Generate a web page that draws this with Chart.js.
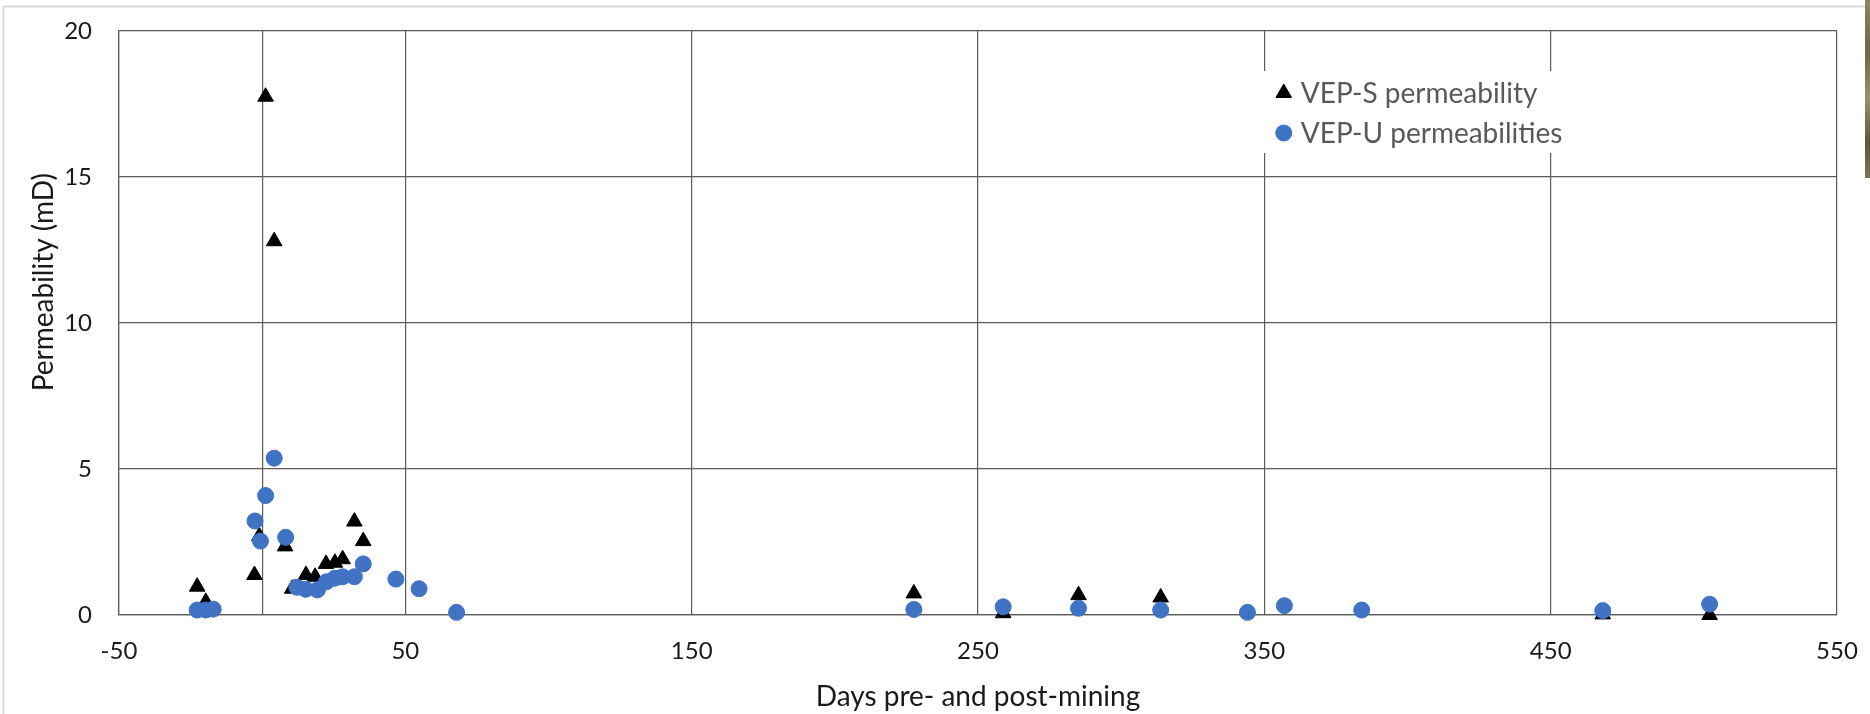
<!DOCTYPE html>
<html>
<head>
<meta charset="utf-8">
<title>Permeability pre- and post-mining</title>
<script src="https://cdn.jsdelivr.net/npm/chart.js@4/dist/chart.umd.min.js"></script>
<style>
  html, body { margin: 0; padding: 0; background: #ffffff; }
  #wrap { position: relative; width: 1870px; height: 714px; }
</style>
</head>
<body>
<div id="wrap"><canvas id="chart"></canvas></div>
<script>
// Days relative to mining and measured permeability (mD)
const vepSDays = [-22.7, -19.7, -2.7, -1.0, 1.2, 4.2, 8.0, 10.5, 15.3, 18.5, 22.3, 25.4, 28.1, 32.2, 35.3, 227.6, 258.8, 285.1, 313.8, 468.2, 505.5];
const vepSPerm = [0.97, 0.45, 1.37, 2.7, 17.75, 12.8, 2.35, 0.9, 1.37, 1.31, 1.75, 1.79, 1.91, 3.2, 2.53, 0.74, 0.06, 0.68, 0.6, 0.02, 0.0];

const vepUDays = [-22.7, -19.7, -17.1, -2.5, -0.6, 1.2, 4.2, 8.2, 12.1, 15.2, 19.3, 22.5, 25.4, 28.1, 32.2, 35.3, 46.7, 54.8, 67.9, 227.6, 258.8, 285.1, 313.8, 344.1, 357.0, 384.0, 468.2, 505.5];
const vepUPerm = [0.17, 0.17, 0.2, 3.22, 2.53, 4.09, 5.37, 2.66, 0.95, 0.88, 0.86, 1.14, 1.26, 1.31, 1.31, 1.75, 1.23, 0.90, 0.09, 0.19, 0.28, 0.23, 0.17, 0.09, 0.32, 0.17, 0.15, 0.37];

const seriesNames = ['VEP-S permeability', 'VEP-U permeabilities'];

// Axis ticks; the vertical axis crosses the day axis at day 0
const xTickLabels = [-50, 50, 150, 250, 350, 450, 550];
const xAxisCrossing = 0;
const yTickLabels = [0, 5, 10, 15, 20];

const xTitle = 'Days pre- and post-mining';
const yTitle = 'Permeability (mD)';

const FONT = 'Lato, "Open Sans", "DejaVu Sans", sans-serif';
const GRID = '#5c5c5c';

const toPoints = (xs, ys) => xs.map((x, i) => ({ x: x, y: ys[i] }));

// Page frame, a sliver of the neighbouring photo, and the rotated value title
const decorPlugin = {
  id: 'decor',
  beforeDraw(chart) {
    const ctx = chart.ctx;
    ctx.save();
    ctx.fillStyle = '#ffffff';
    ctx.fillRect(0, 0, chart.width, chart.height);
    ctx.strokeStyle = '#d9d9d9';
    ctx.lineWidth = 2;
    ctx.beginPath();
    ctx.moveTo(3.5, chart.height);
    ctx.lineTo(3.5, 6.5);
    ctx.lineTo(chart.width - 5, 6.5);
    ctx.stroke();
    const g = ctx.createLinearGradient(0, 0, 0, 178);
    g.addColorStop(0, '#8d8566');
    g.addColorStop(0.3, '#6f6548');
    g.addColorStop(0.55, '#9a8f6e');
    g.addColorStop(0.8, '#5e553c');
    g.addColorStop(1, '#7d7356');
    ctx.fillStyle = g;
    ctx.fillRect(chart.width - 5, 0, 5, 178);
    ctx.restore();
  },
  afterDraw(chart) {
    const ctx = chart.ctx;
    const a = chart.chartArea;
    ctx.save();
    ctx.translate(44, a.top + (a.bottom - a.top) * 0.43);
    ctx.rotate(-Math.PI / 2);
    ctx.fillStyle = '#1a1a1a';
    ctx.font = '28px ' + FONT;
    ctx.textAlign = 'center';
    ctx.textBaseline = 'middle';
    ctx.fillText(yTitle, 0, 0);
    ctx.restore();
  }
};

// Legend boxed inside the plot area, upper right
const insideLegend = {
  id: 'insideLegend',
  afterDatasetsDraw(chart) {
    const ctx = chart.ctx;
    const a = chart.chartArea;
    const w = a.right - a.left;
    const boxX = a.left + w * 0.664;
    const boxY = a.top + 40;
    ctx.save();
    ctx.fillStyle = '#ffffff';
    ctx.fillRect(boxX, boxY, 306, 82);
    ctx.font = '28px ' + FONT;
    ctx.textBaseline = 'middle';
    ctx.textAlign = 'left';
    chart.data.datasets.forEach((ds, i) => {
      const cx = boxX + 24;
      const cy = boxY + 22 + i * 40;
      ctx.fillStyle = ds.backgroundColor;
      ctx.strokeStyle = ds.borderColor;
      ctx.lineWidth = 1;
      Chart.helpers.drawPoint(ctx, {
        pointStyle: ds.pointStyle,
        radius: ds.pointRadius,
        rotation: 0,
        borderWidth: 1
      }, cx, cy);
      ctx.fillStyle = '#595959';
      ctx.fillText(ds.label, cx + 17, cy + 1);
    });
    ctx.restore();
  }
};

new Chart(document.getElementById('chart'), {
  type: 'scatter',
  data: {
    datasets: [
      {
        label: seriesNames[0],
        data: toPoints(vepSDays, vepSPerm),
        pointStyle: 'triangle',
        pointRadius: 9,
        borderWidth: 1,
        backgroundColor: '#000000',
        borderColor: '#000000',
        order: 1,
        clip: false
      },
      {
        label: seriesNames[1],
        data: toPoints(vepUDays, vepUPerm),
        pointStyle: 'circle',
        pointRadius: 8,
        borderWidth: 1,
        backgroundColor: '#4173c5',
        borderColor: '#3f72c6',
        order: 0,
        clip: false
      }
    ]
  },
  options: {
    responsive: true,
    maintainAspectRatio: false,
    animation: false,
    events: [],
    layout: { padding: { left: 0, right: 33, top: 31, bottom: 0 } },
    plugins: {
      legend: { display: false },
      tooltip: { enabled: false },
      title: { display: false }
    },
    scales: {
      x: {
        type: 'linear',
        min: -50,
        max: 550,
        afterBuildTicks(scale) {
          scale.ticks = xTickLabels.concat([xAxisCrossing])
            .sort((p, q) => p - q)
            .map(v => ({ value: v }));
        },
        afterFit(scale) {
          scale.height = 99;
          scale.paddingLeft = 0;
          scale.paddingRight = 0;
        },
        ticks: {
          autoSkip: false,
          maxRotation: 0,
          padding: 22,
          color: '#1a1a1a',
          font: { family: FONT, size: 24 },
          callback: v => (xTickLabels.includes(v) ? String(v) : '')
        },
        grid: { color: GRID, lineWidth: 1.2, drawTicks: false },
        border: { color: GRID, width: 1.2 },
        title: {
          display: true,
          text: xTitle,
          color: '#1a1a1a',
          font: { family: FONT, size: 28 },
          padding: { top: 0, bottom: 0 }
        }
      },
      y: {
        type: 'linear',
        min: 0,
        max: 20,
        afterBuildTicks(scale) {
          scale.ticks = yTickLabels.map(v => ({ value: v }));
        },
        afterFit(scale) {
          scale.width = 119;
          scale.paddingTop = 0;
          scale.paddingBottom = 0;
        },
        ticks: {
          padding: 27,
          color: '#1a1a1a',
          font: { family: FONT, size: 24 }
        },
        grid: { color: GRID, lineWidth: 1.2, drawTicks: false },
        border: { color: GRID, width: 1.2 }
      }
    }
  },
  plugins: [decorPlugin, insideLegend]
});
</script>
</body>
</html>
